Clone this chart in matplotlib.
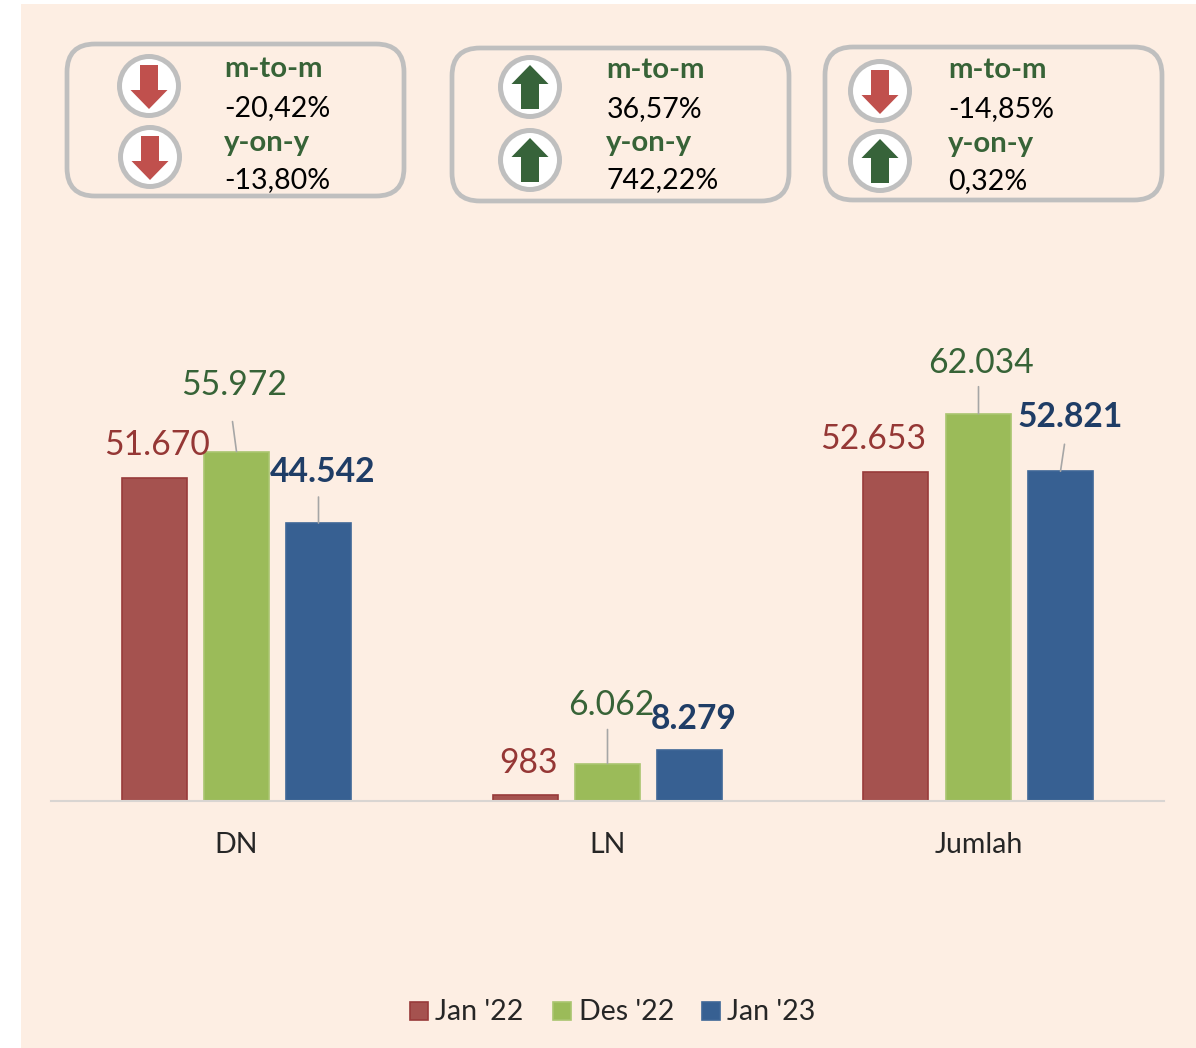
import numpy as np
import matplotlib
matplotlib.use('Agg')
import matplotlib.pyplot as plt
from matplotlib.patches import FancyBboxPatch, Circle, Polygon, Rectangle

plt.rcParams['font.family'] = ['Lato', 'DejaVu Sans']

W, H = 1196, 1048

categories = ['DN', 'LN', 'Jumlah']
series_names = ["Jan '22", "Des '22", "Jan '23"]
jan22 = [51670, 983, 52653]
des22 = [55972, 6062, 62034]
jan23 = [44542, 8279, 52821]

# teks di kotak atas: (m-to-m, y-on-y)
mtom = ['-20,42%', '36,57%', '-14,85%']
yony = ['-13,80%', '742,22%', '0,32%']

colors = ['#A5524F', '#9BBB59', '#376092']
edges = ['#983B3A', '#A9C56F', '#3F6797']
label_colors = ['#953735', '#376337', '#1F3D66']

bg = '#FDEEE3'
fig = plt.figure(figsize=(W / 100, H / 100), dpi=100, facecolor='white')

# fondo y capa en pixeles
over = fig.add_axes([0, 0, 1, 1])
over.set_xlim(0, W)
over.set_ylim(H, 0)
over.axis('off')
over.add_patch(Rectangle((21, 4), W - 21, H - 4, fc=bg, ec='none'))

# grafico principal
ax = fig.add_axes([51 / W, 1 - 801.4 / H, (1164 - 51) / W, 520 / H])
ax.patch.set_alpha(0)
ax.set_xlim(-0.5, 2.5)
ax.set_ylim(0, 520 / 0.00625)
for s in ['top', 'left', 'right']:
    ax.spines[s].set_visible(False)
ax.spines['bottom'].set_color('#D9D5D2')
ax.spines['bottom'].set_linewidth(1.5)
ax.set_yticks([])
x = np.arange(3)
ax.set_xticks(x, categories, fontsize=20.5, color='#262626')
ax.tick_params(axis='x', length=0, pad=22)

bw = 65 / 371
off = 82 / 371
for i, vals in enumerate([jan22, des22, jan23]):
    ax.bar(x + (i - 1) * off - 0.5 / 371, vals, bw, color=colors[i], edgecolor=edges[i], linewidth=1.2,
           label=series_names[i])

# etiquetas: desplazamiento en px desde la cima de la barra, y linea guia
offsets = {
    (0, 0): (3, 33, None), (0, 1): (-2, 67, (-4, 30)), (0, 2): (4, 51, (0, 26)),
    (1, 0): (3, 32, None), (1, 1): (4, 59, (0, 34)), (1, 2): (4, 31, None),
    (2, 0): (-23, 33, None), (2, 1): (3, 51, (0, 27)), (2, 2): (10, 54, (4, 27)),
}
for i, vals in enumerate([jan22, des22, jan23]):
    for j, v in enumerate(vals):
        dx, dy, lead = offsets[(j, i)]
        bx = j + (i - 1) * off
        txt = f'{v:,}'.replace(',', '.')
        ax.annotate(txt, (bx, v), xytext=(dx * 0.72, dy * 0.72), textcoords='offset points',
                    ha='center', va='center', fontsize=24.2, color=label_colors[i],
                    fontweight='bold' if i == 2 else 'normal')
        if lead is not None:
            ax.annotate('', (bx, v), xytext=(lead[0] * 0.72, lead[1] * 0.72), textcoords='offset points',
                        arrowprops=dict(arrowstyle='-', color='#A6A6A6', lw=1.2, shrinkA=0, shrinkB=0))


def badge(cx, cy, up):
    over.add_patch(Circle((cx, cy), 29.5, fc='white', ec='#BFBFBF', lw=3.6))
    if up:
        pts = [(0, -22), (18.5, -3), (9, -3), (9, 22), (-9, 22), (-9, -3), (-18.5, -3)]
        col = '#37633A'
    else:
        pts = [(0, 23), (18.5, 4), (9, 4), (9, -21), (-9, -21), (-9, 4), (-18.5, 4)]
        col = '#C0504D'
    over.add_patch(Polygon([(cx + a, cy + b) for a, b in pts], fc=col, ec='none'))


boxes = [(67, 44, 337, 152), (452, 48, 337, 153), (825, 47, 337, 153)]
badges = [[(149, 86, False), (150, 157, False)],
          [(530, 87, True), (530, 160, True)],
          [(880, 91, False), (880, 161, True)]]
text_x = [224, 606, 948]
text_y = [[69, 108, 143, 180], [70, 109, 143, 180], [70, 109, 144, 181]]

for k, (bx, by, bw_, bh) in enumerate(boxes):
    over.add_patch(FancyBboxPatch((bx + 28, by + 28), bw_ - 56, bh - 56,
                                  boxstyle='round,pad=28,rounding_size=28',
                                  fc='none', ec='#BFBFBF', lw=3.4))
    for cx, cy, up in badges[k]:
        badge(cx, cy, up)
    ys = text_y[k]
    for yy, t, head in [(ys[0], 'm-to-m', True), (ys[1], mtom[k], False),
                        (ys[2], 'y-on-y', True), (ys[3], yony[k], False)]:
        over.text(text_x[k] + (0 if head else 0.5), yy, t, ha='left', va='center',
                  fontsize=21.2 if head else 20.5,
                  color='#376337' if head else 'black', fontweight='bold' if head else 'normal')

# leyenda
leg_sq = [409, 552, 701]
leg_tx = [435, 579, 727]
for sq, tx, name, c, e in zip(leg_sq, leg_tx, series_names, colors, edges):
    over.add_patch(Rectangle((sq + 0.5, 1002), 18, 18, fc=c, ec=e, lw=1.2))
    over.text(tx, 1012, name, ha='left', va='center', fontsize=20.5, color='#262626')

fig.savefig('out.png', dpi=100, facecolor='white')
